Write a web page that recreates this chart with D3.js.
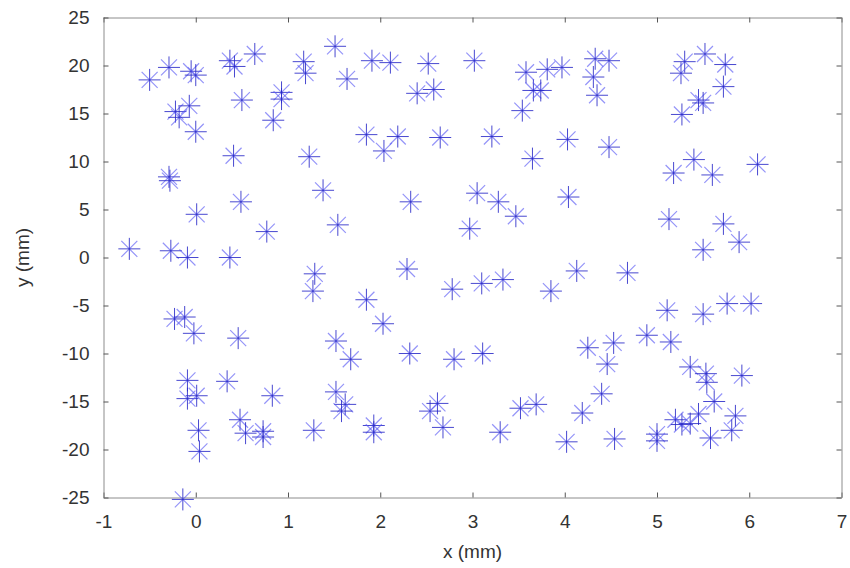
<!DOCTYPE html>
<html>
<head>
<meta charset="utf-8">
<script src="https://cdn.jsdelivr.net/npm/d3@7"></script>
<style>
  body { margin: 0; background: #fff; }
  text { font-family: "Liberation Sans", Arial, sans-serif; }
</style>
</head>
<body>
<div id="chart"></div>
<script>
// marker positions in mm
var xs = [
  -0.50, -0.29, -0.05, 0.00, 0.37, 0.42, 0.64, 1.17, 1.19, 1.51, 1.64, -0.22, -0.18, -0.07, 0.00, 0.50, 0.93, 0.93, 0.84, 0.41, 1.23, -0.29, -0.28,
  1.91, 2.11, 2.52, 2.40, 2.58, 3.02, 3.58, 3.81, 3.97, 3.66, 3.74, 3.54, 1.85, 2.19, 2.04, 2.65, 3.21, 4.03, 3.65,
  4.33, 4.48, 4.31, 4.35, 4.48, 5.30, 5.26, 5.52, 5.74, 5.72, 5.45, 5.50, 5.27, 5.40, 5.18, 5.60, 6.09,
  0.01, 0.49, 0.77, 1.38, 1.54, -0.72, -0.27, -0.09, 0.37, 1.29, 1.27, -0.23, -0.12, -0.02, 0.46, 1.52,
  2.33, 3.05, 3.28, 3.47, 2.97, 4.04, 2.29, 2.78, 3.10, 3.33, 3.85, 4.13, 1.85, 2.03,
  5.13, 5.72, 5.89, 5.50, 4.68, 5.11, 5.50, 5.76, 6.02,
  1.68, -0.09, -0.09, 0.01, 0.34, 0.83, 0.48, 0.54, 0.73, 0.73, 0.03, 0.04, 1.28, 1.52, 1.62, 1.58, -0.14,
  2.32, 2.80, 3.11, 1.93, 1.93, 2.54, 2.62, 2.68, 3.30, 3.52, 3.69, 4.19, 4.02,
  4.25, 4.53, 4.46, 4.89, 5.15, 5.36, 5.53, 5.54, 5.92, 5.62, 4.40, 4.54, 5.00, 5.00, 5.20, 5.27, 5.36, 5.45, 5.58, 5.85, 5.81
];
var ys = [
  18.5, 19.8, 19.4, 19.0, 20.5, 19.9, 21.2, 20.4, 19.2, 22.0, 18.6, 15.2, 14.6, 15.8, 13.1, 16.4, 17.2, 16.5, 14.3, 10.6, 10.5, 8.4, 8.0,
  20.5, 20.3, 20.2, 17.1, 17.5, 20.5, 19.3, 19.6, 19.8, 17.4, 17.4, 15.3, 12.8, 12.6, 11.1, 12.5, 12.6, 12.3, 10.3,
  20.7, 20.5, 18.8, 16.9, 11.5, 20.4, 19.2, 21.2, 20.1, 17.8, 16.4, 16.1, 14.9, 10.2, 8.8, 8.6, 9.7,
  4.5, 5.8, 2.7, 7.0, 3.4, 0.9, 0.7, 0.0, 0.0, -1.7, -3.5, -6.4, -6.2, -7.9, -8.4, -8.7,
  5.8, 6.7, 5.8, 4.3, 3.0, 6.3, -1.2, -3.3, -2.7, -2.3, -3.5, -1.4, -4.4, -6.9,
  4.0, 3.5, 1.6, 0.8, -1.6, -5.5, -5.9, -4.8, -4.8,
  -10.6, -12.8, -14.7, -14.4, -12.9, -14.4, -16.9, -18.3, -18.7, -18.1, -18.0, -20.2, -18.0, -14.0, -15.3, -16.0, -25.2,
  -10.0, -10.6, -10.0, -17.5, -18.2, -16.0, -15.2, -17.7, -18.2, -15.7, -15.3, -16.2, -19.2,
  -9.4, -8.9, -11.1, -8.1, -8.8, -11.4, -12.1, -13.0, -12.3, -15.0, -14.2, -18.9, -18.4, -19.1, -16.9, -17.4, -17.3, -16.3, -18.8, -16.5, -18.0
];
var xTicks = [-1, 0, 1, 2, 3, 4, 5, 6, 7];
var yTicks = [-25, -20, -15, -10, -5, 0, 5, 10, 15, 20, 25];

var points = xs.map(function(x, i) { return { x: x, y: ys[i] }; });

var width = 850, height = 568;
var plotL = 103.5, plotR = 841.5, plotT = 17.5, plotB = 497.5;

var svg = d3.select('#chart').append('svg')
  .attr('width', width).attr('height', height);

var x = d3.scaleLinear().domain([-1, 7]).range([plotL, plotR]);
var y = d3.scaleLinear().domain([-25, 25]).range([plotB, plotT]);
var fmt = function(v) { return String(v); };  // plain hyphen minus like the original

function styleAxis(g) {
  g.select('.domain').attr('stroke', '#8c8c8c');
  g.selectAll('.tick line').attr('stroke', '#555');
  g.selectAll('.tick text').attr('fill', '#333').style('font-size', '19px');
}

svg.append('g').attr('transform', 'translate(0,' + plotB + ')')
  .call(d3.axisBottom(x).tickValues(xTicks).tickFormat(fmt).tickSize(-5).tickSizeOuter(0).tickPadding(17))
  .call(styleAxis);
svg.append('g').attr('transform', 'translate(0,' + plotT + ')')
  .call(d3.axisTop(x).tickValues(xTicks).tickSize(-5).tickSizeOuter(0).tickFormat(''))
  .call(styleAxis);
svg.append('g').attr('transform', 'translate(' + plotL + ',0)')
  .call(d3.axisLeft(y).tickValues(yTicks).tickFormat(fmt).tickSize(-5).tickSizeOuter(0).tickPadding(14))
  .call(styleAxis);
svg.append('g').attr('transform', 'translate(' + plotR + ',0)')
  .call(d3.axisRight(y).tickValues(yTicks).tickSize(-5).tickSizeOuter(0).tickFormat(''))
  .call(styleAxis);

// asterisk markers
var r = 11, d = 8;
var marks = svg.append('g').selectAll('g').data(points).enter().append('g')
  .attr('transform', function(p) { return 'translate(' + x(p.x) + ',' + y(p.y) + ')'; });

marks.append('path')
  .attr('d', 'M' + (-d) + ',' + (-d) + 'L' + d + ',' + d + 'M' + (-d) + ',' + d + 'L' + d + ',' + (-d))
  .attr('stroke', '#5a5af5').attr('stroke-opacity', 0.65).attr('stroke-width', 1.2).attr('fill', 'none');
marks.append('path')
  .attr('d', 'M' + (-r) + ',0H' + r + 'M0,' + (-r) + 'V' + r)
  .attr('stroke', '#2828c8').attr('stroke-opacity', 0.85).attr('fill', 'none');

svg.append('text')
  .attr('x', (plotL + plotR) / 2).attr('y', 558)
  .attr('text-anchor', 'middle').attr('fill', '#333').style('font-size', '19px')
  .text('x (mm)');

svg.append('text')
  .attr('transform', 'translate(29,' + (plotT + plotB) / 2 + ') rotate(-90)')
  .attr('text-anchor', 'middle').attr('fill', '#333').style('font-size', '19px')
  .text('y (mm)');
</script>
</body>
</html>
